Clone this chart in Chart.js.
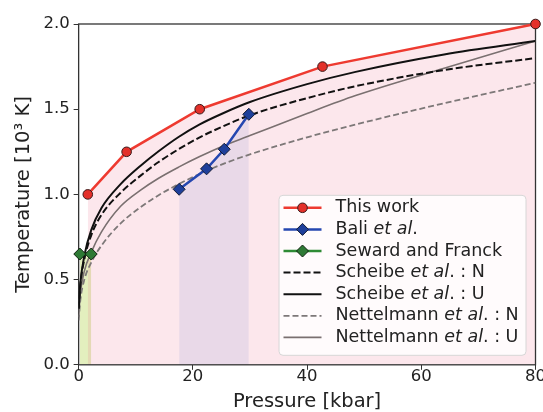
<!DOCTYPE html>
<html>
<head>
<meta charset="utf-8">
<script src="https://cdn.jsdelivr.net/npm/chart.js@4"></script>
<style>
  body { margin: 0; overflow: hidden; background: #fff; }
</style>
</head>
<body>
<canvas id="myChart" width="543" height="412"></canvas>
<script>
// values (pressure in kbar, temperature in 10^3 K)
const thisWorkP = [1.6, 8.4, 21.2, 42.7, 80]
const thisWorkT = [1.0, 1.25, 1.5, 1.75, 2.0]

const baliP = [17.6, 22.4, 25.5, 29.8]
const baliT = [1.03, 1.15, 1.265, 1.47]

const sewardP = [0.2, 2.2]
const sewardT = [0.65, 0.65]

const scheibeNP = [0, 0.3, 1, 2.2, 4, 7.35, 10.85, 14, 17.5, 21.2, 25, 30, 40, 48.5, 64, 80]
const scheibeNT = [0.33, 0.47, 0.62, 0.76, 0.88, 1.01, 1.11, 1.19, 1.265, 1.335, 1.395, 1.465, 1.565, 1.635, 1.73, 1.80]

const scheibeUP = [0, 0.3, 1, 2.2, 4, 7.35, 10.85, 14, 17.5, 21.2, 25, 30, 40, 48.5, 64, 80]
const scheibeUT = [0.33, 0.48, 0.64, 0.79, 0.92, 1.06, 1.168, 1.253, 1.337, 1.411, 1.472, 1.542, 1.647, 1.719, 1.821, 1.90]

const nettelNP = [0, 0.3, 1, 2.2, 4, 7.35, 10.85, 14, 17.5, 21.2, 25, 30, 40, 48.5, 64, 80]
const nettelNT = [0.26, 0.38, 0.5, 0.6, 0.70, 0.83, 0.925, 0.995, 1.06, 1.12, 1.175, 1.235, 1.335, 1.41, 1.535, 1.655]

const nettelUP = [0, 0.3, 1, 2.2, 4, 7.35, 10.85, 14, 17.5, 21.2, 25, 30, 40, 48.5, 64, 80]
const nettelUT = [0.28, 0.42, 0.55, 0.66, 0.78, 0.93, 1.025, 1.095, 1.16, 1.222, 1.28, 1.345, 1.475, 1.58, 1.74, 1.90]

const xTicks = [0, 20, 40, 60, 80]
const yTicks = [0, 0.5, 1.0, 1.5, 2.0]

// legend text, [text, italic] parts
const legendLabels = [
  [['This work', false]],
  [['Bali ', false], ['et al', true], ['.', false]],
  [['Seward and Franck', false]],
  [['Scheibe ', false], ['et al', true], ['. : N', false]],
  [['Scheibe ', false], ['et al', true], ['. : U', false]],
  [['Nettelmann ', false], ['et al', true], ['. : N', false]],
  [['Nettelmann ', false], ['et al', true], ['. : U', false]]
]

const FONT = 'DejaVu Sans'

function pts(xs, ys) {
  return xs.map((x, i) => ({ x: x, y: ys[i] }))
}

const framePlugin = {
  id: 'frame',
  beforeDatasetsDraw(chart) {
    const { ctx, chartArea: a } = chart
    ctx.save()
    ctx.strokeStyle = '#333'
    ctx.lineWidth = 1.3
    ctx.strokeRect(a.left, a.top, a.right - a.left, a.bottom - a.top)
    ctx.restore()
  }
}

function marker(ctx, style, x, y, r) {
  ctx.beginPath()
  if (style === 'circle') {
    ctx.arc(x, y, r, 0, Math.PI * 2)
  } else {
    ctx.moveTo(x, y - r)
    ctx.lineTo(x + r, y)
    ctx.lineTo(x, y + r)
    ctx.lineTo(x - r, y)
    ctx.closePath()
  }
  ctx.fill()
  ctx.stroke()
}

const legendPlugin = {
  id: 'boxLegend',
  afterDraw(chart) {
    const ctx = chart.ctx
    const a = chart.chartArea
    const w = 247, h = 160
    const x0 = a.right - 10 - w
    const y0 = a.bottom - 10 - h
    ctx.save()
    ctx.fillStyle = 'rgba(255,255,255,0.85)'
    ctx.strokeStyle = '#d6d6d6'
    ctx.lineWidth = 1
    ctx.beginPath()
    ctx.roundRect(x0 + 0.5, y0 + 0.5, w, h, 4)
    ctx.fill()
    ctx.stroke()

    chart.data.datasets.forEach((ds, i) => {
      const y = y0 + 13 + i * 21.6
      const lx = x0 + 5
      ctx.setLineDash(ds.borderDash || [])
      ctx.strokeStyle = ds.borderColor
      ctx.lineWidth = ds.borderWidth
      ctx.beginPath()
      ctx.moveTo(lx, y)
      ctx.lineTo(lx + 38, y)
      ctx.stroke()
      ctx.setLineDash([])
      if (ds.pointRadius > 0) {
        ctx.fillStyle = ds.pointBackgroundColor
        ctx.strokeStyle = ds.pointBorderColor
        ctx.lineWidth = ds.pointBorderWidth
        marker(ctx, ds.pointStyle, lx + 19, y, ds.pointRadius)
      }
      let tx = x0 + 57
      ctx.fillStyle = '#222'
      ctx.textBaseline = 'middle'
      legendLabels[i].forEach(part => {
        ctx.font = (part[1] ? 'italic ' : '') + '17.5px "' + FONT + '"'
        ctx.fillText(part[0], tx, y)
        tx += ctx.measureText(part[0]).width
      })
    })
    ctx.restore()
  }
}

const lineDefaults = {
  showLine: true,
  pointRadius: 0,
  pointHoverRadius: 0,
  cubicInterpolationMode: 'monotone',
  fill: false
}

const ctx = document.getElementById('myChart').getContext('2d')
const myChart = new Chart(ctx, {
  type: 'scatter',
  data: {
    datasets: [
      {
        label: 'This work',
        data: pts(thisWorkP, thisWorkT),
        showLine: true,
        borderColor: '#ee3a30',
        borderWidth: 2.5,
        backgroundColor: 'rgba(238, 110, 140, 0.17)',
        fill: 'origin',
        pointStyle: 'circle',
        pointRadius: 4.8,
        pointBackgroundColor: '#e3302a',
        pointBorderColor: '#3a1a1a',
        pointBorderWidth: 1,
        tension: 0,
        clip: false
      },
      {
        label: 'Bali et al.',
        data: pts(baliP, baliT),
        showLine: true,
        borderColor: '#2547b0',
        borderWidth: 2.5,
        backgroundColor: 'rgba(130, 160, 230, 0.18)',
        fill: 'origin',
        pointStyle: 'rectRot',
        pointRadius: 6,
        pointBackgroundColor: '#1e3f9a',
        pointBorderColor: '#111a33',
        pointBorderWidth: 1,
        tension: 0
      },
      {
        label: 'Seward and Franck',
        data: pts(sewardP, sewardT),
        showLine: true,
        borderColor: '#2e8b35',
        borderWidth: 2.5,
        backgroundColor: 'rgba(175, 210, 70, 0.35)',
        fill: 'origin',
        pointStyle: 'rectRot',
        pointRadius: 6,
        pointBackgroundColor: '#2e7a35',
        pointBorderColor: '#112211',
        pointBorderWidth: 1,
        tension: 0,
        clip: false
      },
      Object.assign({}, lineDefaults, {
        label: 'Scheibe et al.: N',
        data: pts(scheibeNP, scheibeNT),
        borderColor: '#111',
        borderWidth: 2,
        borderDash: [7, 3]
      }),
      Object.assign({}, lineDefaults, {
        label: 'Scheibe et al.: U',
        data: pts(scheibeUP, scheibeUT),
        borderColor: '#111',
        borderWidth: 2
      }),
      Object.assign({}, lineDefaults, {
        label: 'Nettelmann et al.: N',
        data: pts(nettelNP, nettelNT),
        borderColor: '#7d7878',
        borderWidth: 1.8,
        borderDash: [6, 3]
      }),
      Object.assign({}, lineDefaults, {
        label: 'Nettelmann et al.: U',
        data: pts(nettelUP, nettelUT),
        borderColor: '#7a7070',
        borderWidth: 1.6
      })
    ]
  },
  options: {
    responsive: false,
    devicePixelRatio: 1,
    animation: false,
    layout: {
      padding: { left: 12, top: 24, right: 0, bottom: -2 }
    },
    scales: {
      x: {
        type: 'linear',
        min: 0,
        max: 80,
        afterBuildTicks: axis => { axis.ticks = xTicks.map(v => ({ value: v })) },
        ticks: {
          color: '#222',
          padding: -3,
          font: { family: FONT, size: 16.5 },
          maxRotation: 0
        },
        grid: { drawOnChartArea: false, color: '#333', tickLength: 5 },
        border: { display: false },
        title: {
          display: true,
          text: 'Pressure [kbar]',
          color: '#222',
          font: { family: FONT, size: 19.5 },
          padding: { top: 7, bottom: 0 }
        }
      },
      y: {
        type: 'linear',
        min: 0,
        max: 2,
        afterBuildTicks: axis => { axis.ticks = yTicks.map(v => ({ value: v })) },
        ticks: {
          color: '#222',
          padding: 4,
          font: { family: FONT, size: 16.5 },
          callback: v => v.toFixed(1)
        },
        grid: { drawOnChartArea: false, color: '#333', tickLength: 5 },
        border: { display: false },
        title: {
          display: true,
          text: 'Temperature [10³ K]',
          color: '#222',
          font: { family: FONT, size: 19.5 },
          padding: { top: 0, bottom: 4 }
        }
      }
    },
    plugins: {
      legend: { display: false },
      tooltip: { enabled: false },
      filler: { drawTime: 'beforeDatasetsDraw' }
    }
  },
  plugins: [framePlugin, legendPlugin]
})
</script>
</body>
</html>
